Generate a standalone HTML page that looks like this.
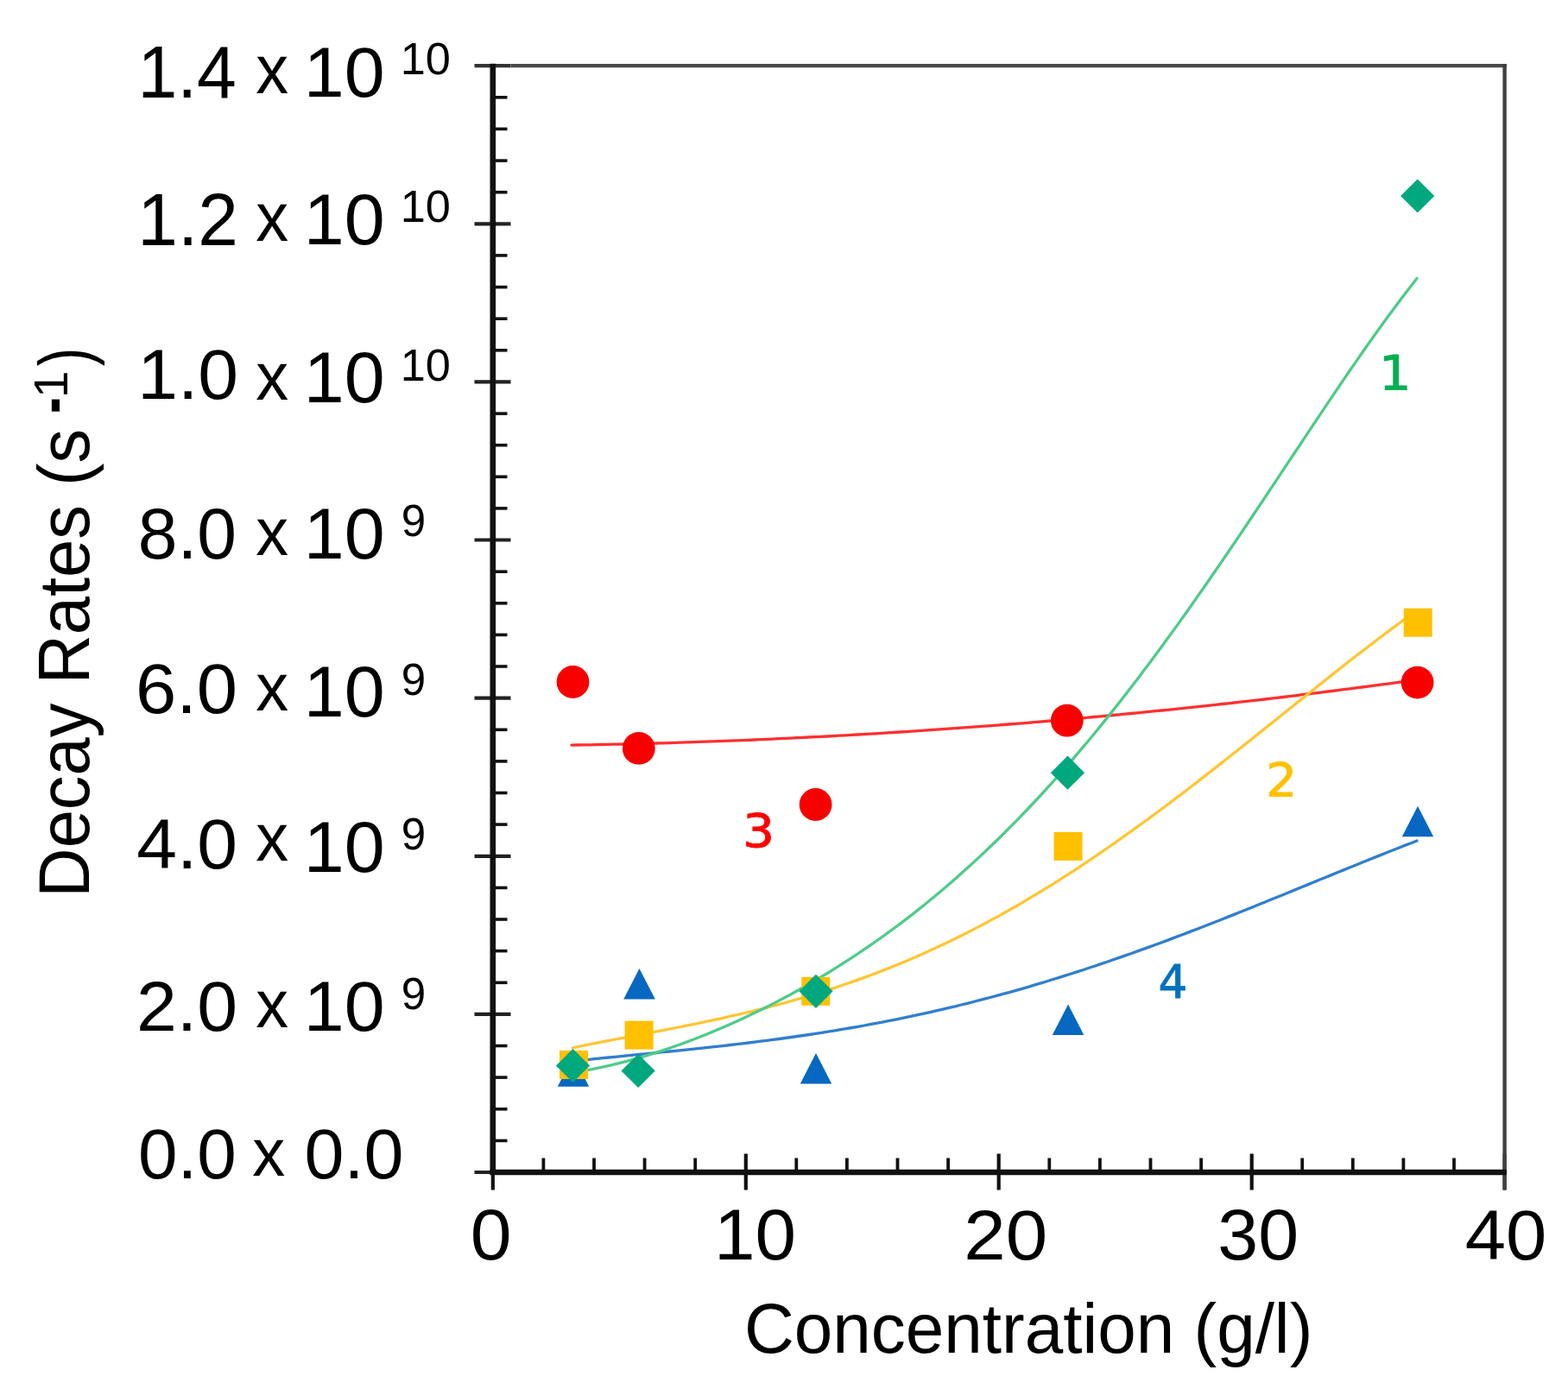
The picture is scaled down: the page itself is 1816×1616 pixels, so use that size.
<!DOCTYPE html>
<html><head><meta charset="utf-8"><title>Decay Rates vs Concentration</title>
<style>html,body{margin:0;padding:0;background:#fff;overflow:hidden;width:1816px;height:1616px;}svg{display:block;}</style></head>
<body>
<svg width="1816" height="1616" viewBox="0 0 1816 1616">
<rect width="1816" height="1616" fill="#fff"/>
<line x1="571.0" y1="112.8" x2="587.5" y2="112.8" stroke="#111" stroke-width="3.6" stroke-linecap="butt"/>
<line x1="571.0" y1="149.4" x2="587.5" y2="149.4" stroke="#111" stroke-width="3.6" stroke-linecap="butt"/>
<line x1="571.0" y1="186.1" x2="587.5" y2="186.1" stroke="#111" stroke-width="3.6" stroke-linecap="butt"/>
<line x1="571.0" y1="222.7" x2="587.5" y2="222.7" stroke="#111" stroke-width="3.6" stroke-linecap="butt"/>
<line x1="571.0" y1="295.9" x2="587.5" y2="295.9" stroke="#111" stroke-width="3.6" stroke-linecap="butt"/>
<line x1="571.0" y1="332.6" x2="587.5" y2="332.6" stroke="#111" stroke-width="3.6" stroke-linecap="butt"/>
<line x1="571.0" y1="369.2" x2="587.5" y2="369.2" stroke="#111" stroke-width="3.6" stroke-linecap="butt"/>
<line x1="571.0" y1="405.8" x2="587.5" y2="405.8" stroke="#111" stroke-width="3.6" stroke-linecap="butt"/>
<line x1="571.0" y1="479.1" x2="587.5" y2="479.1" stroke="#111" stroke-width="3.6" stroke-linecap="butt"/>
<line x1="571.0" y1="515.7" x2="587.5" y2="515.7" stroke="#111" stroke-width="3.6" stroke-linecap="butt"/>
<line x1="571.0" y1="552.3" x2="587.5" y2="552.3" stroke="#111" stroke-width="3.6" stroke-linecap="butt"/>
<line x1="571.0" y1="588.9" x2="587.5" y2="588.9" stroke="#111" stroke-width="3.6" stroke-linecap="butt"/>
<line x1="571.0" y1="662.2" x2="587.5" y2="662.2" stroke="#111" stroke-width="3.6" stroke-linecap="butt"/>
<line x1="571.0" y1="698.8" x2="587.5" y2="698.8" stroke="#111" stroke-width="3.6" stroke-linecap="butt"/>
<line x1="571.0" y1="735.4" x2="587.5" y2="735.4" stroke="#111" stroke-width="3.6" stroke-linecap="butt"/>
<line x1="571.0" y1="772.0" x2="587.5" y2="772.0" stroke="#111" stroke-width="3.6" stroke-linecap="butt"/>
<line x1="571.0" y1="845.3" x2="587.5" y2="845.3" stroke="#111" stroke-width="3.6" stroke-linecap="butt"/>
<line x1="571.0" y1="881.9" x2="587.5" y2="881.9" stroke="#111" stroke-width="3.6" stroke-linecap="butt"/>
<line x1="571.0" y1="918.5" x2="587.5" y2="918.5" stroke="#111" stroke-width="3.6" stroke-linecap="butt"/>
<line x1="571.0" y1="955.1" x2="587.5" y2="955.1" stroke="#111" stroke-width="3.6" stroke-linecap="butt"/>
<line x1="571.0" y1="1028.4" x2="587.5" y2="1028.4" stroke="#111" stroke-width="3.6" stroke-linecap="butt"/>
<line x1="571.0" y1="1065.0" x2="587.5" y2="1065.0" stroke="#111" stroke-width="3.6" stroke-linecap="butt"/>
<line x1="571.0" y1="1101.6" x2="587.5" y2="1101.6" stroke="#111" stroke-width="3.6" stroke-linecap="butt"/>
<line x1="571.0" y1="1138.3" x2="587.5" y2="1138.3" stroke="#111" stroke-width="3.6" stroke-linecap="butt"/>
<line x1="571.0" y1="1211.5" x2="587.5" y2="1211.5" stroke="#111" stroke-width="3.6" stroke-linecap="butt"/>
<line x1="571.0" y1="1248.1" x2="587.5" y2="1248.1" stroke="#111" stroke-width="3.6" stroke-linecap="butt"/>
<line x1="571.0" y1="1284.8" x2="587.5" y2="1284.8" stroke="#111" stroke-width="3.6" stroke-linecap="butt"/>
<line x1="571.0" y1="1321.4" x2="587.5" y2="1321.4" stroke="#111" stroke-width="3.6" stroke-linecap="butt"/>
<line x1="549.5" y1="76.2" x2="591.5" y2="76.2" stroke="#333" stroke-width="4.2" stroke-linecap="butt"/>
<line x1="549.5" y1="259.3" x2="591.5" y2="259.3" stroke="#222" stroke-width="4.2" stroke-linecap="butt"/>
<line x1="549.5" y1="442.4" x2="591.5" y2="442.4" stroke="#222" stroke-width="4.2" stroke-linecap="butt"/>
<line x1="549.5" y1="625.5" x2="591.5" y2="625.5" stroke="#222" stroke-width="4.2" stroke-linecap="butt"/>
<line x1="549.5" y1="808.7" x2="591.5" y2="808.7" stroke="#222" stroke-width="4.2" stroke-linecap="butt"/>
<line x1="549.5" y1="991.8" x2="591.5" y2="991.8" stroke="#222" stroke-width="4.2" stroke-linecap="butt"/>
<line x1="549.5" y1="1174.9" x2="591.5" y2="1174.9" stroke="#222" stroke-width="4.2" stroke-linecap="butt"/>
<line x1="549.5" y1="1358.0" x2="591.5" y2="1358.0" stroke="#222" stroke-width="4.2" stroke-linecap="butt"/>
<line x1="629.4" y1="1358.0" x2="629.4" y2="1341.5" stroke="#111" stroke-width="3.8" stroke-linecap="butt"/>
<line x1="688.0" y1="1358.0" x2="688.0" y2="1341.5" stroke="#111" stroke-width="3.8" stroke-linecap="butt"/>
<line x1="746.6" y1="1358.0" x2="746.6" y2="1341.5" stroke="#111" stroke-width="3.8" stroke-linecap="butt"/>
<line x1="805.2" y1="1358.0" x2="805.2" y2="1341.5" stroke="#111" stroke-width="3.8" stroke-linecap="butt"/>
<line x1="922.3" y1="1358.0" x2="922.3" y2="1341.5" stroke="#111" stroke-width="3.8" stroke-linecap="butt"/>
<line x1="980.9" y1="1358.0" x2="980.9" y2="1341.5" stroke="#111" stroke-width="3.8" stroke-linecap="butt"/>
<line x1="1039.5" y1="1358.0" x2="1039.5" y2="1341.5" stroke="#111" stroke-width="3.8" stroke-linecap="butt"/>
<line x1="1098.1" y1="1358.0" x2="1098.1" y2="1341.5" stroke="#111" stroke-width="3.8" stroke-linecap="butt"/>
<line x1="1215.3" y1="1358.0" x2="1215.3" y2="1341.5" stroke="#111" stroke-width="3.8" stroke-linecap="butt"/>
<line x1="1273.9" y1="1358.0" x2="1273.9" y2="1341.5" stroke="#111" stroke-width="3.8" stroke-linecap="butt"/>
<line x1="1332.5" y1="1358.0" x2="1332.5" y2="1341.5" stroke="#111" stroke-width="3.8" stroke-linecap="butt"/>
<line x1="1391.1" y1="1358.0" x2="1391.1" y2="1341.5" stroke="#111" stroke-width="3.8" stroke-linecap="butt"/>
<line x1="1508.2" y1="1358.0" x2="1508.2" y2="1341.5" stroke="#111" stroke-width="3.8" stroke-linecap="butt"/>
<line x1="1566.8" y1="1358.0" x2="1566.8" y2="1341.5" stroke="#111" stroke-width="3.8" stroke-linecap="butt"/>
<line x1="1625.4" y1="1358.0" x2="1625.4" y2="1341.5" stroke="#111" stroke-width="3.8" stroke-linecap="butt"/>
<line x1="1684.0" y1="1358.0" x2="1684.0" y2="1341.5" stroke="#111" stroke-width="3.8" stroke-linecap="butt"/>
<line x1="570.8" y1="1336.5" x2="570.8" y2="1378.5" stroke="#111" stroke-width="4.2" stroke-linecap="butt"/>
<line x1="863.8" y1="1336.5" x2="863.8" y2="1378.5" stroke="#111" stroke-width="4.2" stroke-linecap="butt"/>
<line x1="1156.7" y1="1336.5" x2="1156.7" y2="1378.5" stroke="#111" stroke-width="4.2" stroke-linecap="butt"/>
<line x1="1449.7" y1="1336.5" x2="1449.7" y2="1378.5" stroke="#111" stroke-width="4.2" stroke-linecap="butt"/>
<line x1="1742.6" y1="1336.5" x2="1742.6" y2="1378.5" stroke="#404040" stroke-width="4.2" stroke-linecap="butt"/>
<line x1="591.5" y1="76.2" x2="1745.0" y2="76.2" stroke="#4a4a4a" stroke-width="4.2" stroke-linecap="butt"/>
<line x1="1742.6" y1="74.2" x2="1742.6" y2="1378.5" stroke="#404040" stroke-width="4.4" stroke-linecap="butt"/>
<line x1="570.8" y1="73.7" x2="570.8" y2="1361.0" stroke="#111" stroke-width="6.6" stroke-linecap="butt"/>
<line x1="567.5" y1="1358.0" x2="1745.0" y2="1358.0" stroke="#111" stroke-width="6.4" stroke-linecap="butt"/>
<path d="M662.0 863.1 L669.0 863.0 L676.1 862.9 L683.1 862.8 L690.2 862.6 L697.2 862.5 L704.3 862.4 L711.3 862.2 L718.3 862.1 L725.4 861.9 L732.4 861.7 L739.5 861.5 L746.5 861.4 L753.6 861.2 L760.6 861.0 L767.6 860.8 L774.7 860.6 L781.7 860.3 L788.8 860.1 L795.8 859.9 L802.9 859.7 L809.9 859.4 L816.9 859.2 L824.0 858.9 L831.0 858.7 L838.1 858.4 L845.1 858.1 L852.2 857.9 L859.2 857.6 L866.3 857.3 L873.3 857.0 L880.3 856.7 L887.4 856.4 L894.4 856.1 L901.5 855.7 L908.5 855.4 L915.6 855.1 L922.6 854.7 L929.6 854.4 L936.7 854.0 L943.7 853.7 L950.8 853.3 L957.8 853.0 L964.9 852.6 L971.9 852.2 L978.9 851.8 L986.0 851.4 L993.0 851.0 L1000.1 850.6 L1007.1 850.2 L1014.2 849.8 L1021.2 849.3 L1028.2 848.9 L1035.3 848.5 L1042.3 848.0 L1049.4 847.6 L1056.4 847.1 L1063.5 846.7 L1070.5 846.2 L1077.5 845.7 L1084.6 845.2 L1091.6 844.7 L1098.7 844.2 L1105.7 843.7 L1112.8 843.2 L1119.8 842.7 L1126.8 842.2 L1133.9 841.7 L1140.9 841.1 L1148.0 840.6 L1155.0 840.1 L1162.1 839.5 L1169.1 839.0 L1176.2 838.4 L1183.2 837.8 L1190.2 837.3 L1197.3 836.7 L1204.3 836.1 L1211.4 835.5 L1218.4 834.9 L1225.5 834.3 L1232.5 833.7 L1239.5 833.0 L1246.6 832.4 L1253.6 831.8 L1260.7 831.2 L1267.7 830.5 L1274.8 829.9 L1281.8 829.2 L1288.8 828.5 L1295.9 827.9 L1302.9 827.2 L1310.0 826.5 L1317.0 825.8 L1324.1 825.1 L1331.1 824.4 L1338.1 823.7 L1345.2 823.0 L1352.2 822.3 L1359.3 821.6 L1366.3 820.8 L1373.4 820.1 L1380.4 819.4 L1387.4 818.6 L1394.5 817.9 L1401.5 817.1 L1408.6 816.3 L1415.6 815.5 L1422.7 814.8 L1429.7 814.0 L1436.7 813.2 L1443.8 812.4 L1450.8 811.6 L1457.9 810.8 L1464.9 810.0 L1472.0 809.1 L1479.0 808.3 L1486.1 807.5 L1493.1 806.6 L1500.1 805.8 L1507.2 804.9 L1514.2 804.0 L1521.3 803.2 L1528.3 802.3 L1535.4 801.4 L1542.4 800.5 L1549.4 799.6 L1556.5 798.7 L1563.5 797.8 L1570.6 796.9 L1577.6 796.0 L1584.7 795.1 L1591.7 794.2 L1598.7 793.2 L1605.8 792.3 L1612.8 791.3 L1619.9 790.4 L1626.9 789.4 L1634.0 788.4 L1641.0 787.5" fill="none" stroke="#ff3030" stroke-width="3.3" stroke-linecap="round" stroke-linejoin="round"/>
<path d="M663.0 1229.4 L670.0 1228.6 L677.1 1227.9 L684.1 1227.2 L691.1 1226.4 L698.2 1225.7 L705.2 1225.0 L712.3 1224.3 L719.3 1223.6 L726.3 1222.9 L733.4 1222.2 L740.4 1221.5 L747.4 1220.8 L754.5 1220.1 L761.5 1219.5 L768.5 1218.7 L775.6 1218.0 L782.6 1217.3 L789.6 1216.6 L796.7 1215.9 L803.7 1215.1 L810.8 1214.4 L817.8 1213.6 L824.8 1212.9 L831.9 1212.1 L838.9 1211.3 L845.9 1210.5 L853.0 1209.7 L860.0 1208.8 L867.0 1208.0 L874.1 1207.1 L881.1 1206.2 L888.2 1205.3 L895.2 1204.4 L902.2 1203.5 L909.3 1202.5 L916.3 1201.5 L923.3 1200.5 L930.4 1199.5 L937.4 1198.5 L944.4 1197.4 L951.5 1196.3 L958.5 1195.2 L965.5 1194.1 L972.6 1192.9 L979.6 1191.7 L986.7 1190.5 L993.7 1189.3 L1000.7 1188.0 L1007.8 1186.7 L1014.8 1185.4 L1021.8 1184.1 L1028.9 1182.7 L1035.9 1181.3 L1042.9 1179.9 L1050.0 1178.4 L1057.0 1176.9 L1064.1 1175.4 L1071.1 1173.9 L1078.1 1172.3 L1085.2 1170.7 L1092.2 1169.1 L1099.2 1167.4 L1106.3 1165.8 L1113.3 1164.0 L1120.3 1162.3 L1127.4 1160.5 L1134.4 1158.7 L1141.4 1156.9 L1148.5 1155.0 L1155.5 1153.1 L1162.6 1151.2 L1169.6 1149.3 L1176.6 1147.3 L1183.7 1145.3 L1190.7 1143.3 L1197.7 1141.2 L1204.8 1139.1 L1211.8 1137.0 L1218.8 1134.8 L1225.9 1132.6 L1232.9 1130.4 L1239.9 1128.2 L1247.0 1125.9 L1254.0 1123.7 L1261.1 1121.3 L1268.1 1119.0 L1275.1 1116.6 L1282.2 1114.3 L1289.2 1111.8 L1296.2 1109.4 L1303.3 1106.9 L1310.3 1104.5 L1317.3 1101.9 L1324.4 1099.4 L1331.4 1096.9 L1338.5 1094.3 L1345.5 1091.7 L1352.5 1089.1 L1359.6 1086.4 L1366.6 1083.8 L1373.6 1081.1 L1380.7 1078.4 L1387.7 1075.7 L1394.7 1073.0 L1401.8 1070.2 L1408.8 1067.5 L1415.8 1064.7 L1422.9 1061.9 L1429.9 1059.1 L1437.0 1056.3 L1444.0 1053.5 L1451.0 1050.7 L1458.1 1047.8 L1465.1 1045.0 L1472.1 1042.1 L1479.2 1039.3 L1486.2 1036.4 L1493.2 1033.5 L1500.3 1030.6 L1507.3 1027.8 L1514.4 1024.9 L1521.4 1022.0 L1528.4 1019.1 L1535.5 1016.2 L1542.5 1013.4 L1549.5 1010.5 L1556.6 1007.6 L1563.6 1004.8 L1570.6 1001.9 L1577.7 999.0 L1584.7 996.2 L1591.7 993.4 L1598.8 990.6 L1605.8 987.8 L1612.9 985.0 L1619.9 982.2 L1626.9 979.4 L1634.0 976.7 L1641.0 974.0" fill="none" stroke="#2f7fd0" stroke-width="3.3" stroke-linecap="round" stroke-linejoin="round"/>
<path d="M663.5 1213.8 L670.5 1212.3 L677.6 1210.9 L684.6 1209.5 L691.6 1208.1 L698.7 1206.7 L705.7 1205.4 L712.7 1204.0 L719.8 1202.7 L726.8 1201.3 L733.8 1200.0 L740.9 1198.7 L747.9 1197.3 L754.9 1196.0 L762.0 1194.6 L769.0 1193.3 L776.0 1191.9 L783.1 1190.5 L790.1 1189.1 L797.1 1187.7 L804.1 1186.3 L811.2 1184.8 L818.2 1183.4 L825.2 1181.9 L832.3 1180.3 L839.3 1178.8 L846.3 1177.2 L853.4 1175.6 L860.4 1174.0 L867.4 1172.3 L874.5 1170.6 L881.5 1168.8 L888.5 1167.1 L895.6 1165.2 L902.6 1163.4 L909.6 1161.5 L916.7 1159.5 L923.7 1157.5 L930.7 1155.5 L937.8 1153.4 L944.8 1151.3 L951.8 1149.1 L958.9 1146.8 L965.9 1144.6 L972.9 1142.2 L980.0 1139.8 L987.0 1137.4 L994.0 1134.9 L1001.1 1132.4 L1008.1 1129.8 L1015.1 1127.1 L1022.2 1124.4 L1029.2 1121.6 L1036.2 1118.8 L1043.2 1115.9 L1050.3 1112.9 L1057.3 1109.9 L1064.3 1106.9 L1071.4 1103.8 L1078.4 1100.6 L1085.4 1097.3 L1092.5 1094.0 L1099.5 1090.7 L1106.5 1087.2 L1113.6 1083.7 L1120.6 1080.2 L1127.6 1076.6 L1134.7 1072.9 L1141.7 1069.2 L1148.7 1065.4 L1155.8 1061.6 L1162.8 1057.6 L1169.8 1053.7 L1176.9 1049.7 L1183.9 1045.6 L1190.9 1041.4 L1198.0 1037.2 L1205.0 1033.0 L1212.0 1028.7 L1219.1 1024.3 L1226.1 1019.9 L1233.1 1015.4 L1240.2 1010.8 L1247.2 1006.3 L1254.2 1001.6 L1261.3 996.9 L1268.3 992.2 L1275.3 987.4 L1282.3 982.5 L1289.4 977.7 L1296.4 972.7 L1303.4 967.7 L1310.5 962.7 L1317.5 957.6 L1324.5 952.5 L1331.6 947.4 L1338.6 942.2 L1345.6 937.0 L1352.7 931.7 L1359.7 926.4 L1366.7 921.1 L1373.8 915.7 L1380.8 910.3 L1387.8 904.9 L1394.9 899.4 L1401.9 893.9 L1408.9 888.4 L1416.0 882.9 L1423.0 877.3 L1430.0 871.8 L1437.1 866.2 L1444.1 860.6 L1451.1 855.0 L1458.2 849.4 L1465.2 843.7 L1472.2 838.1 L1479.3 832.5 L1486.3 826.8 L1493.3 821.2 L1500.4 815.5 L1507.4 809.9 L1514.4 804.3 L1521.4 798.7 L1528.5 793.1 L1535.5 787.5 L1542.5 781.9 L1549.6 776.3 L1556.6 770.8 L1563.6 765.3 L1570.7 759.8 L1577.7 754.4 L1584.7 749.0 L1591.8 743.6 L1598.8 738.2 L1605.8 732.9 L1612.9 727.7 L1619.9 722.5 L1626.9 717.3 L1634.0 712.2 L1641.0 707.2" fill="none" stroke="#ffc633" stroke-width="3.3" stroke-linecap="round" stroke-linejoin="round"/>
<path d="M663.5 1242.5 L670.5 1241.4 L677.6 1240.1 L684.6 1238.8 L691.6 1237.4 L698.7 1235.9 L705.7 1234.4 L712.7 1232.7 L719.8 1230.9 L726.8 1229.1 L733.8 1227.2 L740.9 1225.2 L747.9 1223.1 L754.9 1220.9 L762.0 1218.7 L769.0 1216.4 L776.0 1214.0 L783.1 1211.5 L790.1 1209.0 L797.1 1206.4 L804.1 1203.7 L811.2 1201.0 L818.2 1198.2 L825.2 1195.3 L832.3 1192.3 L839.3 1189.3 L846.3 1186.2 L853.4 1183.0 L860.4 1179.8 L867.4 1176.5 L874.5 1173.1 L881.5 1169.7 L888.5 1166.2 L895.6 1162.6 L902.6 1158.9 L909.6 1155.2 L916.7 1151.4 L923.7 1147.5 L930.7 1143.5 L937.8 1139.5 L944.8 1135.4 L951.8 1131.2 L958.9 1127.0 L965.9 1122.6 L972.9 1118.2 L980.0 1113.7 L987.0 1109.2 L994.0 1104.5 L1001.1 1099.7 L1008.1 1094.9 L1015.1 1090.0 L1022.2 1085.0 L1029.2 1079.9 L1036.2 1074.7 L1043.2 1069.5 L1050.3 1064.1 L1057.3 1058.7 L1064.3 1053.1 L1071.4 1047.5 L1078.4 1041.8 L1085.4 1035.9 L1092.5 1030.0 L1099.5 1024.0 L1106.5 1017.9 L1113.6 1011.6 L1120.6 1005.3 L1127.6 998.9 L1134.7 992.4 L1141.7 985.8 L1148.7 979.0 L1155.8 972.2 L1162.8 965.3 L1169.8 958.2 L1176.9 951.1 L1183.9 943.8 L1190.9 936.5 L1198.0 929.0 L1205.0 921.5 L1212.0 913.8 L1219.1 906.0 L1226.1 898.1 L1233.1 890.2 L1240.2 882.1 L1247.2 873.9 L1254.2 865.6 L1261.3 857.2 L1268.3 848.7 L1275.3 840.1 L1282.3 831.4 L1289.4 822.6 L1296.4 813.7 L1303.4 804.7 L1310.5 795.6 L1317.5 786.4 L1324.5 777.1 L1331.6 767.7 L1338.6 758.3 L1345.6 748.7 L1352.7 739.1 L1359.7 729.4 L1366.7 719.6 L1373.8 709.7 L1380.8 699.8 L1387.8 689.8 L1394.9 679.7 L1401.9 669.5 L1408.9 659.3 L1416.0 649.1 L1423.0 638.8 L1430.0 628.4 L1437.1 618.0 L1444.1 607.5 L1451.1 597.0 L1458.2 586.5 L1465.2 576.0 L1472.2 565.4 L1479.3 554.8 L1486.3 544.2 L1493.3 533.6 L1500.4 523.0 L1507.4 512.5 L1514.4 501.9 L1521.4 491.3 L1528.5 480.8 L1535.5 470.3 L1542.5 459.9 L1549.6 449.5 L1556.6 439.1 L1563.6 428.8 L1570.7 418.6 L1577.7 408.5 L1584.7 398.5 L1591.8 388.5 L1598.8 378.7 L1605.8 369.0 L1612.9 359.4 L1619.9 350.0 L1626.9 340.7 L1634.0 331.5 L1641.0 322.5" fill="none" stroke="#4fcb8a" stroke-width="3.3" stroke-linecap="round" stroke-linejoin="round"/>
<circle cx="663.5" cy="790.0" r="18.9" fill="#f80000"/>
<circle cx="739.8" cy="866.9" r="18.9" fill="#f80000"/>
<circle cx="944.6" cy="932.0" r="18.9" fill="#f80000"/>
<circle cx="1235.8" cy="834.7" r="18.9" fill="#f80000"/>
<circle cx="1641.6" cy="790.6" r="18.9" fill="#f80000"/>
<polygon points="664.0,1223.2 682.2,1258.7 645.8,1258.7" fill="#0668c0"/>
<polygon points="740.5,1122.0 758.8,1157.5 722.2,1157.5" fill="#0668c0"/>
<polygon points="945.0,1220.0 963.2,1255.5 926.8,1255.5" fill="#0668c0"/>
<polygon points="1237.1,1163.4 1255.3,1198.9 1218.8,1198.9" fill="#0668c0"/>
<polygon points="1642.0,933.7 1660.2,969.2 1623.8,969.2" fill="#0668c0"/>
<rect x="648.0" y="1217.0" width="33" height="33" fill="#ffc000"/>
<rect x="723.6" y="1182.6" width="33" height="33" fill="#ffc000"/>
<rect x="928.3" y="1131.8" width="33" height="33" fill="#ffc000"/>
<rect x="1220.6" y="963.9" width="33" height="33" fill="#ffc000"/>
<rect x="1625.7" y="704.7" width="33" height="33" fill="#ffc000"/>
<polygon points="663.5,1214.9 683.1,1234.5 663.5,1254.1 643.9,1234.5" fill="#00a87d"/>
<polygon points="739.1,1220.9 758.7,1240.5 739.1,1260.1 719.5,1240.5" fill="#00a87d"/>
<polygon points="945.0,1128.7 964.6,1148.3 945.0,1167.9 925.4,1148.3" fill="#00a87d"/>
<polygon points="1236.5,875.6 1256.1,895.2 1236.5,914.8 1216.9,895.2" fill="#00a87d"/>
<polygon points="1641.7,207.4 1661.3,227.0 1641.7,246.6 1622.1,227.0" fill="#00a87d"/>
<text transform="translate(159.48 112.50) scale(0.9799 1.0071)" font-size="84" fill="#000" font-family='"Liberation Sans", Arial, sans-serif'>1.4</text>
<text transform="translate(296.35 108.30) scale(0.9015 0.9577)" font-size="84" fill="#000" font-family='"Liberation Sans", Arial, sans-serif'>x</text>
<text transform="translate(351.79 111.70) scale(1.0040 0.9786)" font-size="84" fill="#000" font-family='"Liberation Sans", Arial, sans-serif'>10</text>
<text transform="translate(463.67 85.89) scale(0.9868 0.9940)" font-size="53" fill="#000" font-family='"Liberation Sans", Arial, sans-serif'>10</text>
<text transform="translate(159.35 283.60) scale(0.9965 1.0110)" font-size="84" fill="#000" font-family='"Liberation Sans", Arial, sans-serif'>1.2</text>
<text transform="translate(296.35 279.40) scale(0.9015 0.9577)" font-size="84" fill="#000" font-family='"Liberation Sans", Arial, sans-serif'>x</text>
<text transform="translate(351.79 282.78) scale(1.0040 0.9971)" font-size="84" fill="#000" font-family='"Liberation Sans", Arial, sans-serif'>10</text>
<text transform="translate(463.67 256.89) scale(0.9868 0.9940)" font-size="53" fill="#000" font-family='"Liberation Sans", Arial, sans-serif'>10</text>
<text transform="translate(159.32 461.70) scale(0.9999 0.9786)" font-size="84" fill="#000" font-family='"Liberation Sans", Arial, sans-serif'>1.0</text>
<text transform="translate(296.35 462.50) scale(0.9015 0.9351)" font-size="84" fill="#000" font-family='"Liberation Sans", Arial, sans-serif'>x</text>
<text transform="translate(351.79 466.29) scale(1.0040 0.9853)" font-size="84" fill="#000" font-family='"Liberation Sans", Arial, sans-serif'>10</text>
<text transform="translate(463.67 441.09) scale(0.9868 0.9940)" font-size="53" fill="#000" font-family='"Liberation Sans", Arial, sans-serif'>10</text>
<text transform="translate(159.73 646.98) scale(0.9778 0.9971)" font-size="84" fill="#000" font-family='"Liberation Sans", Arial, sans-serif'>8.0</text>
<text transform="translate(296.35 642.50) scale(0.9015 0.9351)" font-size="84" fill="#000" font-family='"Liberation Sans", Arial, sans-serif'>x</text>
<text transform="translate(351.79 646.98) scale(1.0040 0.9971)" font-size="84" fill="#000" font-family='"Liberation Sans", Arial, sans-serif'>10</text>
<text transform="translate(464.81 621.09) scale(0.9640 0.9940)" font-size="53" fill="#000" font-family='"Liberation Sans", Arial, sans-serif'>9</text>
<text transform="translate(156.88 825.90) scale(1.0117 0.9786)" font-size="84" fill="#000" font-family='"Liberation Sans", Arial, sans-serif'>6.0</text>
<text transform="translate(296.35 822.50) scale(0.9015 0.9351)" font-size="84" fill="#000" font-family='"Liberation Sans", Arial, sans-serif'>x</text>
<text transform="translate(351.79 830.08) scale(1.0040 0.9971)" font-size="84" fill="#000" font-family='"Liberation Sans", Arial, sans-serif'>10</text>
<text transform="translate(464.81 805.29) scale(0.9640 0.9940)" font-size="53" fill="#000" font-family='"Liberation Sans", Arial, sans-serif'>9</text>
<text transform="translate(158.17 1005.90) scale(1.0003 0.9786)" font-size="84" fill="#000" font-family='"Liberation Sans", Arial, sans-serif'>4.0</text>
<text transform="translate(296.35 997.30) scale(0.9015 0.9351)" font-size="84" fill="#000" font-family='"Liberation Sans", Arial, sans-serif'>x</text>
<text transform="translate(351.79 1010.08) scale(1.0040 0.9971)" font-size="84" fill="#000" font-family='"Liberation Sans", Arial, sans-serif'>10</text>
<text transform="translate(464.81 984.30) scale(0.9640 0.9674)" font-size="53" fill="#000" font-family='"Liberation Sans", Arial, sans-serif'>9</text>
<text transform="translate(157.97 1193.80) scale(1.0021 0.9786)" font-size="84" fill="#000" font-family='"Liberation Sans", Arial, sans-serif'>2.0</text>
<text transform="translate(296.35 1190.40) scale(0.9015 0.9351)" font-size="84" fill="#000" font-family='"Liberation Sans", Arial, sans-serif'>x</text>
<text transform="translate(351.79 1193.80) scale(1.0040 0.9786)" font-size="84" fill="#000" font-family='"Liberation Sans", Arial, sans-serif'>10</text>
<text transform="translate(464.81 1168.99) scale(0.9640 0.9940)" font-size="53" fill="#000" font-family='"Liberation Sans", Arial, sans-serif'>9</text>
<text transform="translate(160.10 1364.90) scale(0.9745 0.9803)" font-size="84" fill="#000" font-family='"Liberation Sans", Arial, sans-serif'>0.0</text>
<text transform="translate(292.15 1361.50) scale(0.9040 0.9351)" font-size="84" fill="#000" font-family='"Liberation Sans", Arial, sans-serif'>x</text>
<text transform="translate(352.57 1364.90) scale(0.9836 0.9803)" font-size="84" fill="#000" font-family='"Liberation Sans", Arial, sans-serif'>0.0</text>
<text transform="translate(544.64 1459.49) scale(1.0236 0.9820)" font-size="84" fill="#000" font-family='"Liberation Sans", Arial, sans-serif'>0</text>
<text transform="translate(826.98 1459.49) scale(1.0174 0.9820)" font-size="84" fill="#000" font-family='"Liberation Sans", Arial, sans-serif'>10</text>
<text transform="translate(1116.21 1459.49) scale(1.0381 0.9820)" font-size="84" fill="#000" font-family='"Liberation Sans", Arial, sans-serif'>20</text>
<text transform="translate(1410.29 1459.49) scale(1.0040 0.9820)" font-size="84" fill="#000" font-family='"Liberation Sans", Arial, sans-serif'>30</text>
<text transform="translate(1696.75 1459.49) scale(1.0122 0.9820)" font-size="84" fill="#000" font-family='"Liberation Sans", Arial, sans-serif'>40</text>
<text transform="translate(862.04 1567.15) scale(0.9942 1.0088)" font-size="80.5" fill="#000" font-family='"Liberation Sans", Arial, sans-serif'>Concentration (g/l)</text>
<text transform="rotate(-90) translate(-1039.72 102.50) scale(0.9928 1.0538)" font-size="80" font-family='"Liberation Sans", Arial, sans-serif'>Decay Rates (s</text>
<text transform="rotate(-90) translate(-479.17 95.89) scale(1.1106 2.2400)" font-size="52" font-family='"Liberation Sans", Arial, sans-serif'>-</text>
<text transform="rotate(-90) translate(-461.05 77.60) scale(1.0892 1.0678)" font-size="52" font-family='"Liberation Sans", Arial, sans-serif'>1</text>
<text transform="rotate(-90) translate(-424.28 103.82) scale(0.8109 1.0371)" font-size="80" font-family='"Liberation Sans", Arial, sans-serif'>)</text>
<text transform="translate(1597.02 451.00) scale(1.0921 1.0110)" font-size="54" fill="#00b050" stroke="#00b050" stroke-width="0.9" font-family='"DejaVu Sans", sans-serif'>1</text>
<text transform="translate(1466.25 921.50) scale(1.0482 0.9956)" font-size="54" fill="#ffc000" stroke="#ffc000" stroke-width="0.9" font-family='"DejaVu Sans", sans-serif'>2</text>
<text transform="translate(860.29 981.24) scale(1.0726 0.9965)" font-size="54" fill="#ff0000" stroke="#ff0000" stroke-width="0.9" font-family='"DejaVu Sans", sans-serif'>3</text>
<text transform="translate(1341.40 1156.30) scale(0.9865 0.9856)" font-size="54" fill="#0070c0" stroke="#0070c0" stroke-width="0.9" font-family='"DejaVu Sans", sans-serif'>4</text>
</svg>
</body></html>
